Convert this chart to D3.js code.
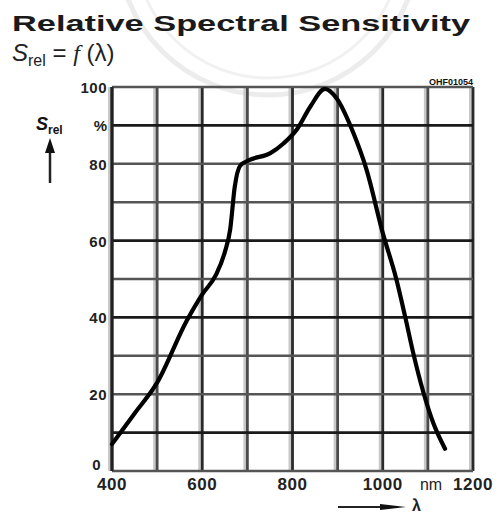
<!DOCTYPE html>
<html>
<head>
<meta charset="utf-8">
<script src="https://cdn.jsdelivr.net/npm/d3@7"></script>
<style>
  body { margin: 0; background: #fff; }
  svg { display: block; }
</style>
</head>
<body>
<script>
const w = 499;
const h = 515;

// curve
const wavelength = [400, 450, 500, 565, 600, 630, 650, 662, 672, 684, 705, 750, 780, 810, 840, 872, 898, 935, 964, 1000, 1030, 1050, 1068, 1090, 1112, 1138];
const sRel = [7, 15, 23, 39, 46, 51, 57, 63, 74, 79.5, 81, 82.7, 85.3, 89, 95, 99.5, 97, 88, 78.5, 62, 50, 40, 30.5, 20.5, 12.5, 5.8];

const xTicks = [400, 600, 800, 1000, 1200];
const yTicks = [0, 20, 40, 60, 80, 100];
const xGrid = d3.range(400, 1201, 100);
const yGrid = d3.range(0, 101, 10);

const pLeft = 112, pRight = 473, pTop = 87, pBottom = 471;

const x = d3.scaleLinear().domain([400, 1200]).range([pLeft, pRight]);
const y = d3.scaleLinear().domain([0, 100]).range([pBottom, pTop]);

const svg = d3.select("body").append("svg").attr("width", w).attr("height", h);

// faint watermark seal behind the title
svg.append("circle").attr("cx", 268).attr("cy", -55).attr("r", 150)
  .attr("fill", "none").attr("stroke", "#ececec").attr("stroke-width", 5);
svg.append("circle").attr("cx", 268).attr("cy", -55).attr("r", 133)
  .attr("fill", "none").attr("stroke", "#f1f1f1").attr("stroke-width", 3);

const labelFont = "Liberation Sans, Arial, sans-serif";

// title
svg.append("text").text("Relative Spectral Sensitivity")
  .attr("x", 12).attr("y", 31)
  .attr("textLength", 458).attr("lengthAdjust", "spacingAndGlyphs")
  .attr("font-family", labelFont)
  .attr("font-weight", "bold").attr("font-size", 22)
  .attr("fill", "#1a1a1a");

const sub = svg.append("text").attr("x", 12).attr("y", 61)
  .attr("font-family", labelFont)
  .attr("font-size", 24).attr("fill", "#222");
sub.append("tspan").text("S").attr("font-style", "italic");
sub.append("tspan").text("rel").attr("font-size", 16).attr("dy", 5);
sub.append("tspan").text(" = ").attr("dy", -5);
sub.append("tspan").text("f").attr("font-style", "italic").attr("font-family", "Liberation Serif, serif");
sub.append("tspan").text(" (λ)");

// grid: light halo then the darker line
const gridV = svg.append("g");
gridV.selectAll("line.halo").data(xGrid).enter().append("line")
  .attr("x1", d => x(d) - 2.5).attr("x2", d => x(d) - 2.5)
  .attr("y1", pTop).attr("y2", pBottom)
  .attr("stroke", "#c8c8c8").attr("stroke-width", 3);
gridV.selectAll("line.core").data(xGrid).enter().append("line")
  .attr("x1", d => x(d)).attr("x2", d => x(d))
  .attr("y1", pTop).attr("y2", pBottom)
  .attr("stroke", (d, i) => i % 2 ? "#4a4a4a" : "#2a2a2a").attr("stroke-width", 2.8);

const gridH = svg.append("g");
gridH.selectAll("line").data(yGrid).enter().append("line")
  .attr("x1", pLeft).attr("x2", pRight)
  .attr("y1", d => y(d)).attr("y2", d => y(d))
  .attr("stroke", d => (d === 90 || d === 10 || d === 60 || d === 40) ? "#1a1a1a" : "#555")
  .attr("stroke-width", 2.6);

// left axis line
svg.append("line").attr("x1", pLeft).attr("x2", pLeft).attr("y1", pTop).attr("y2", pBottom)
  .attr("stroke", "#222").attr("stroke-width", 3);

// curve
const line = d3.line().x((d, i) => x(wavelength[i])).y(d => y(d)).curve(d3.curveMonotoneX);
svg.append("path").datum(sRel).attr("d", line)
  .attr("fill", "none").attr("stroke", "#000").attr("stroke-width", 4.2)
  .attr("stroke-linejoin", "round").attr("stroke-linecap", "round");

// y tick labels
svg.append("g").selectAll("text").data(yTicks).enter().append("text")
  .text(d => d)
  .attr("x", d => d === 0 ? 101 : 107).attr("y", d => d === 0 ? y(d) - 1 : y(d) + 6)
  .attr("text-anchor", "end").attr("font-family", labelFont)
  .attr("font-weight", "bold").attr("font-size", 15).attr("letter-spacing", 0.5)
  .attr("fill", "#222");
svg.append("text").text("%").attr("x", 107).attr("y", y(90) + 6)
  .attr("text-anchor", "end").attr("font-family", labelFont)
  .attr("font-weight", "bold").attr("font-size", 15).attr("fill", "#222");

// S_rel label with up arrow
const yl = svg.append("text").attr("x", 36).attr("y", 130)
  .attr("font-family", labelFont).attr("font-size", 18).attr("fill", "#111");
yl.append("tspan").text("S").attr("font-style", "italic").attr("font-weight", "bold");
yl.append("tspan").text("rel").attr("font-size", 12).attr("dy", 4).attr("font-weight", "bold");
svg.append("line").attr("x1", 50).attr("x2", 50).attr("y1", 148).attr("y2", 183)
  .attr("stroke", "#222").attr("stroke-width", 2.5);
svg.append("path").attr("d", "M45,153 L50,138 L55,153 Z").attr("fill", "#111");

// x tick labels
svg.append("g").selectAll("text").data(xTicks).enter().append("text")
  .text(d => d)
  .attr("x", d => x(d)).attr("y", 490)
  .attr("text-anchor", "middle").attr("font-family", labelFont)
  .attr("font-weight", "bold").attr("font-size", 17).attr("letter-spacing", 0.5)
  .attr("fill", "#222");
svg.append("text").text("nm").attr("x", 431).attr("y", 490)
  .attr("text-anchor", "middle").attr("font-family", labelFont)
  .attr("font-size", 16).attr("fill", "#222");

// lambda arrow
svg.append("line").attr("x1", 338).attr("x2", 398).attr("y1", 507).attr("y2", 507)
  .attr("stroke", "#222").attr("stroke-width", 2);
svg.append("path").attr("d", "M380,504 L406,507 L380,510 Z").attr("fill", "#111");
svg.append("text").text("λ").attr("x", 412).attr("y", 511)
  .attr("font-family", labelFont).attr("font-weight", "bold")
  .attr("font-size", 16).attr("fill", "#222");

// drawing code in the corner
svg.append("text").text("OHF01054").attr("x", 473).attr("y", 85)
  .attr("text-anchor", "end").attr("font-family", labelFont)
  .attr("font-weight", "bold").attr("font-size", 9).attr("fill", "#111");
</script>
</body>
</html>
